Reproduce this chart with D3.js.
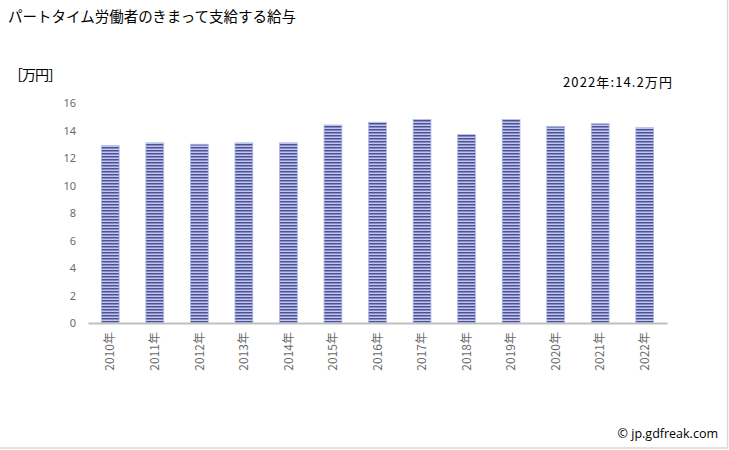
<!DOCTYPE html>
<html><head><meta charset="utf-8">
<script src="https://cdn.jsdelivr.net/npm/d3@7"></script>
<style>body{margin:0;background:#fff}svg{display:block}</style>
</head><body>
<script>
const title = "パートタイム労働者のきまって支給する給与";
const unitLabel = "［万円］";
const noteLabel = "2022年:14.2万円";
const credit = "© jp.gdfreak.com";
const categories = ["2010年","2011年","2012年","2013年","2014年","2015年","2016年","2017年","2018年","2019年","2020年","2021年","2022年"];
const values = [12.9, 13.1, 13.0, 13.1, 13.1, 14.4, 14.6, 14.8, 13.7, 14.8, 14.3, 14.5, 14.2];
const yTicks = [0, 2, 4, 6, 8, 10, 12, 14, 16];

const W = 729, H = 450;
const svg = d3.select("body").append("svg").attr("width", W).attr("height", H);
const defs = svg.append("defs");
const pat = defs.append("pattern").attr("id", "stripe").attr("patternUnits", "userSpaceOnUse")
  .attr("width", 8).attr("height", 3);
pat.append("rect").attr("width", 8).attr("height", 3).attr("fill", "#bcc8f0");
pat.append("rect").attr("width", 8).attr("height", 1.5).attr("fill", "#514f92");

const font = "'Noto Sans CJK JP', 'Noto Sans', sans-serif";

svg.append("text").attr("x", 8).attr("y", 22).attr("font-family", font)
  .attr("font-size", 14.5).attr("fill", "#000").text(title);
svg.append("text").attr("x", 9).attr("y", 80).attr("font-family", font)
  .attr("font-size", 14).attr("fill", "#000")
  .attr("textLength", 53).attr("lengthAdjust", "spacing").text(unitLabel);
svg.append("text").attr("x", 563).attr("y", 87).attr("font-family", font)
  .attr("font-size", 13).attr("fill", "#000")
  .attr("textLength", 109).attr("lengthAdjust", "spacing").text(noteLabel);
svg.append("text").attr("x", 718).attr("y", 438).attr("text-anchor", "end").attr("font-family", "'Open Sans', sans-serif")
  .attr("font-size", 12.5).attr("fill", "#000").text(credit);

const x = d3.scaleBand().domain(categories).range([88, 667]).paddingInner(0.6).paddingOuter(0.3);
const y = d3.scaleLinear().domain([0, 16]).range([323, 103]);

const yAxis = svg.append("g").attr("transform", "translate(76,0)")
  .call(d3.axisLeft(y).tickValues(yTicks).tickSize(0).tickPadding(0));
yAxis.select(".domain").remove();
yAxis.selectAll("text").attr("font-family", "'Noto Sans', sans-serif").attr("font-size", 11).attr("fill", "#6a6a6a");

svg.append("g").selectAll("rect").data(values).join("rect")
  .attr("x", (d, i) => x(categories[i]))
  .attr("width", x.bandwidth())
  .attr("y", d => y(d))
  .attr("height", d => y(0) - y(d))
  .attr("fill", "url(#stripe)")
  .attr("stroke", "#a9bbe8").attr("stroke-width", 0.8);

const xAxis = svg.append("g").attr("transform", "translate(0,323)")
  .call(d3.axisBottom(x).tickSize(0).tickPadding(0));
xAxis.select(".domain").attr("stroke", "#bfbfbf").attr("stroke-width", 2);
xAxis.selectAll("text")
  .attr("font-family", font).attr("font-size", 12).attr("fill", "#6a6a6a")
  .attr("transform", "rotate(-90)").attr("text-anchor", "end")
  .attr("x", -9).attr("y", 0).attr("dy", "0.35em");

svg.append("line").attr("x1", 727.5).attr("x2", 727.5).attr("y1", 0).attr("y2", 448).attr("stroke", "#d9d9d9").attr("stroke-width", 1.5);
svg.append("line").attr("x1", 0).attr("x2", 728).attr("y1", 448).attr("y2", 448).attr("stroke", "#d9d9d9").attr("stroke-width", 1.5);
</script>
</body></html>
